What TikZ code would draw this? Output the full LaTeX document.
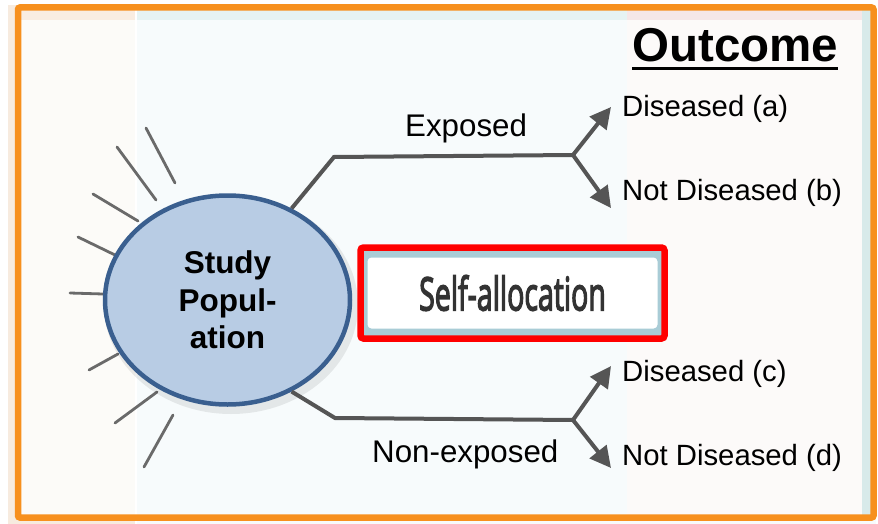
\documentclass[tikz,border=0pt]{standalone}
\usepackage{fontspec}
\setmainfont{Liberation Sans}
\newfontfamily\boxfont[FakeBold=3.5]{Open Sans}
\usetikzlibrary{arrows.meta,shapes.geometric}
\definecolor{framecol}{HTML}{F7901E}
\definecolor{peach}{HTML}{F7EBDF}
\definecolor{panelL}{HTML}{FCFBF8}
\definecolor{panelM}{HTML}{F7FBFC}
\definecolor{panelR}{HTML}{FCFAF9}
\definecolor{stripL}{HTML}{F9EDE1}
\definecolor{stripM}{HTML}{E6F3F3}
\definecolor{stripR}{HTML}{F5E7E8}
\definecolor{edgeT}{HTML}{D8EAEA}
\definecolor{popfill}{HTML}{B8CCE4}
\definecolor{popdraw}{HTML}{3A5F8F}
\definecolor{branch}{HTML}{555555}
\definecolor{raycol}{HTML}{6A6A6A}
\definecolor{boxteal}{HTML}{A9CCD6}
\definecolor{boxred}{HTML}{FF0000}
\definecolor{boxtext}{HTML}{333333}
\tikzset{
  branchline/.style={draw=branch, line width=4pt, line join=miter},
  brancharrow/.style={draw=branch, line width=4pt, -{Triangle[length=21pt,width=21pt]}},
  ray/.style={draw=raycol, line width=2.8pt, line cap=round},
  outcometext/.style={anchor=base west, inner sep=0pt, font=\fontsize{29.3}{34}\selectfont},
  armtext/.style={anchor=base west, inner sep=0pt, font=\fontsize{31.3}{36}\selectfont},
}
\begin{document}
\begin{tikzpicture}[x=1pt,y=-1pt]
\useasboundingbox (0,0) rectangle (878,524);
% backdrop panels
\fill[white] (0,0) rectangle (878,524);
\fill[peach] (8,5) rectangle (135,524);
\fill[panelM] (137,5) rectangle (876,524);
\fill[panelL] (21,10) rectangle (134.5,515);
\fill[stripL] (21,10) rectangle (134.5,20);
\fill[panelM] (136.5,10) rectangle (627,515);
\fill[stripM] (136.5,10) rectangle (627,20);
\fill[panelR] (627,10) rectangle (862,515);
\fill[stripR] (627,10) rectangle (862,20);
\fill[edgeT] (862,10) rectangle (871,515);
% orange frame
\draw[framecol, line width=6.5pt, rounded corners=2pt] (18,7.5) rectangle (873.5,517.5);

% heading
\node[anchor=base west, inner sep=0pt, font=\fontsize{47.5}{52}\selectfont\bfseries] (outcome) at (632,62) {Outcome};
\draw[black, line width=3pt] (outcome.base west) ++(0,7) coordinate (ul1) -- ([yshift=-7pt]outcome.base east) coordinate (ul2);

% rays around the population
\draw[ray] (146,128) -- (175,183);
\draw[ray] (117,147) -- (156,200);
\draw[ray] (93,194) -- (138,221);
\draw[ray] (78,237) -- (115,255);
\draw[ray] (70,293) -- (103,294);
\draw[ray] (89,370) -- (118,354);
\draw[ray] (115,423) -- (157,392);
\draw[ray] (144,467) -- (173,415);

% branch points
\coordinate (ucorner) at (334,157);
\coordinate (ujunc) at (573,155);
\coordinate (lcorner) at (335,418);
\coordinate (ljunc) at (573,420);
\coordinate (atip) at (611,107);
\coordinate (btip) at (611,208);
\coordinate (ctip) at (611,366);
\coordinate (dtip) at (611,468);

% shadow and population ellipse
\fill[black, opacity=0.08] (231,305) ellipse [x radius=127pt, y radius=109pt];
\node[ellipse, draw=popdraw, fill=popfill, line width=4.5pt, minimum width=245pt, minimum height=209pt, inner sep=0pt,
      align=center, font=\fontsize{31.5}{37.5}\selectfont\bfseries] (pop) at (227.5,300) {\raisebox{-2pt}{Study}\\\raisebox{-2pt}{Popul-}\\\raisebox{-2pt}{ation}};

% branches
\draw[branchline] (pop.55) -- (ucorner) -- (ujunc);
\draw[branchline] (pop.-55) -- (lcorner) -- (ljunc);
\draw[brancharrow] (ujunc) -- (atip);
\draw[brancharrow] (ujunc) -- (btip);
\draw[brancharrow] (ljunc) -- (ctip);
\draw[brancharrow] (ljunc) -- (dtip);

% labels
\node[armtext] (exposed) at (405,137) {Exposed};
\node[armtext] (nonexposed) at (372,462) {Non-exposed};
\node[outcometext] (oa) at (622,117) {Diseased (a)};
\node[outcometext] (ob) at (622,200) {Not Diseased (b)};
\node[outcometext] (oc) at (622,381) {Diseased (c)};
\node[outcometext] (od) at (622,465) {Not Diseased (d)};

% allocation box
\node[draw=boxred, line width=6.5pt, fill=boxteal, rounded corners=3pt, minimum width=304pt, minimum height=91pt, inner sep=0pt] (alloc) at (512.5,293) {};
\node[fill=white, rounded corners=4pt, minimum width=290pt, minimum height=71pt, inner sep=0pt, text=boxtext,
      font=\boxfont\fontsize{46}{50}\selectfont] (alloclabel) at (alloc.center) {\scalebox{0.62}[1]{Self-allocation}};
\end{tikzpicture}
\end{document}
